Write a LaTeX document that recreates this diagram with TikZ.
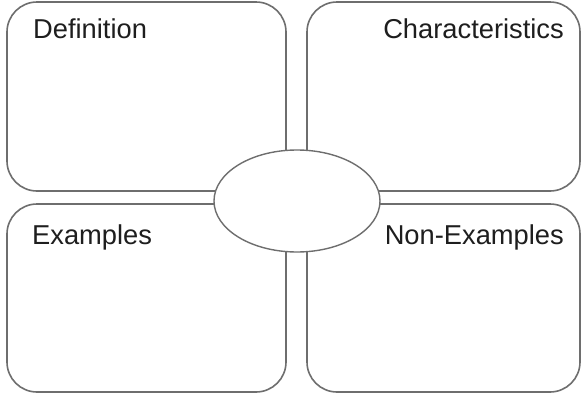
\documentclass[tikz,border=0pt]{standalone}
\usepackage{fontspec}
\usetikzlibrary{shapes.geometric}
\setmainfont{Liberation Sans}
\definecolor{edge}{HTML}{6E6E6E}
\definecolor{ink}{HTML}{1E1E1E}
\begin{document}
\begin{tikzpicture}[x=1pt,y=-1pt,
  quad/.style={draw=edge,line width=1.6pt,rounded corners=30pt,fill=white},
  lbl/.style={inner sep=0pt,font=\fontsize{27.3}{29}\selectfont,text=ink},
  hub/.style={ellipse,draw=edge,line width=1.4pt,fill=white,minimum width=166pt,minimum height=102pt,inner sep=0pt}]
\useasboundingbox (0,0) rectangle (582,394);
\fill[white] (0,0) rectangle (582,394);
\draw[quad] (7,2) rectangle (286,191);
\draw[quad] (307,2) rectangle (580,191);
\draw[quad] (7,204) rectangle (286,392);
\draw[quad] (307,204) rectangle (580,392);
\node[lbl,anchor=base west] (def) at (33,38) {Definition};
\node[lbl,anchor=base east] (chr) at (564,38) {Characteristics};
\node[lbl,anchor=base west] (ex) at (32,244) {Examples};
\node[lbl,anchor=base east] (nex) at (564,244) {Non-Examples};
\node[hub] (c) at (297,201) {};
\end{tikzpicture}
\end{document}
